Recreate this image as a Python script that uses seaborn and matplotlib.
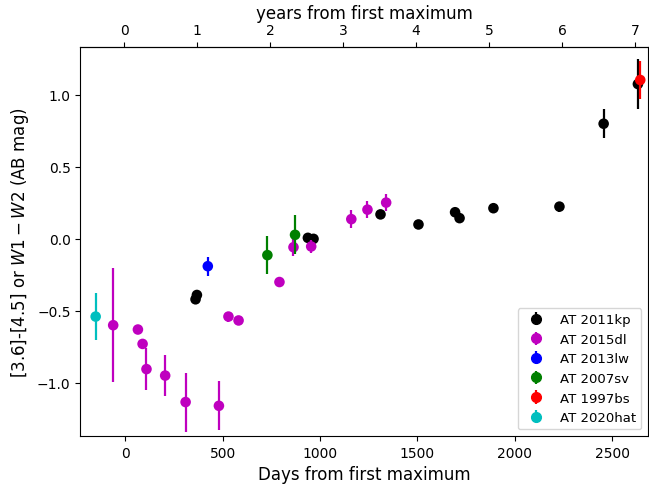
import numpy as np
import pandas as pd
import matplotlib
matplotlib.use("Agg")
import matplotlib.pyplot as plt
import seaborn as sns

# Colour evolution of each transient: days from first maximum, colour, 1-sigma error
days_2011kp = [361, 368, 938, 967, 1311, 1506, 1694, 1717, 1891, 2230, 2457, 2633]
col_2011kp = [-0.42, -0.39, 0.007, 0.0, 0.17, 0.10, 0.185, 0.144, 0.213, 0.224, 0.80, 1.076]
err_2011kp = [0.02, 0.02, 0.02, 0.02, 0.02, 0.02, 0.02, 0.02, 0.02, 0.035, 0.10, 0.175]

days_2015dl = [-62, 65, 89, 109, 205, 310, 481, 530, 582, 792, 864, 955, 1161, 1244, 1340]
col_2015dl = [-0.60, -0.63, -0.73, -0.905, -0.95, -1.134, -1.16, -0.54, -0.567,
              -0.30, -0.058, -0.053, 0.137, 0.203, 0.252]
err_2015dl = [0.395, 0.02, 0.03, 0.145, 0.14, 0.205, 0.17, 0.035, 0.02,
              0.035, 0.06, 0.045, 0.065, 0.06, 0.06]

days_2013lw = [424]
col_2013lw = [-0.19]
err_2013lw = [0.065]

days_2007sv = [730, 872]
col_2007sv = [-0.113, 0.028]
err_2007sv = [0.13, 0.135]

days_1997bs = [2645]
col_1997bs = [1.104]
err_1997bs = [0.135]

days_2020hat = [-152]
col_2020hat = [-0.54]
err_2020hat = [0.165]

names = ["AT 2011kp", "AT 2015dl", "AT 2013lw", "AT 2007sv", "AT 1997bs", "AT 2020hat"]
colors = ["k", "m", "b", "g", "r", "c"]
series = [
    (days_2011kp, col_2011kp, err_2011kp),
    (days_2015dl, col_2015dl, err_2015dl),
    (days_2013lw, col_2013lw, err_2013lw),
    (days_2007sv, col_2007sv, err_2007sv),
    (days_1997bs, col_1997bs, err_1997bs),
    (days_2020hat, col_2020hat, err_2020hat),
]

frames = []
for name, (d, c, e) in zip(names, series):
    frames.append(pd.DataFrame({"days": d, "colour": c, "err": e, "object": name}))
df = pd.concat(frames, ignore_index=True)

fig = plt.figure(figsize=(6.49, 4.89), dpi=100)
ax = fig.add_axes([0.1237, 0.1063, 0.8748, 0.7955])

palette = dict(zip(names, colors))
handles = []
for i, name in enumerate(names):
    sub = df[df["object"] == name]
    ax.errorbar(sub["days"], sub["colour"], yerr=sub["err"], fmt="none",
                ecolor=palette[name], elinewidth=1.6, zorder=2 + 2 * i)
    sns.scatterplot(data=sub, x="days", y="colour", color=palette[name], s=58,
                    edgecolor="none", legend=False, ax=ax, zorder=3 + 2 * i)
    h = ax.errorbar([], [], yerr=[], fmt="o", color=palette[name], ms=7,
                    elinewidth=1.6, label=name)
    handles.append(h)

ax.set_xlim(-231, 2685)
ax.set_ylim(-1.37, 1.333)
ax.set_xticks([0, 500, 1000, 1500, 2000, 2500])
ax.set_yticks([-1.0, -0.5, 0.0, 0.5, 1.0])
ax.tick_params(labelsize=10)
ax.set_xlabel("Days from first maximum", fontsize=12)
ax.set_ylabel(r"[3.6]-[4.5] or $W1-W2$ (AB mag)", fontsize=12)

# secondary scale in years
top = ax.secondary_xaxis("top", functions=(lambda d: (d + 5) / 374.7,
                                           lambda y: y * 374.7 - 5))
top.set_xticks(range(0, 8))
top.tick_params(labelsize=10)
top.set_xlabel("years from first maximum", fontsize=12)

ax.legend(handles=handles, labels=names, loc="lower right", fontsize=9.5)

fig.savefig("out.png", dpi=100)
